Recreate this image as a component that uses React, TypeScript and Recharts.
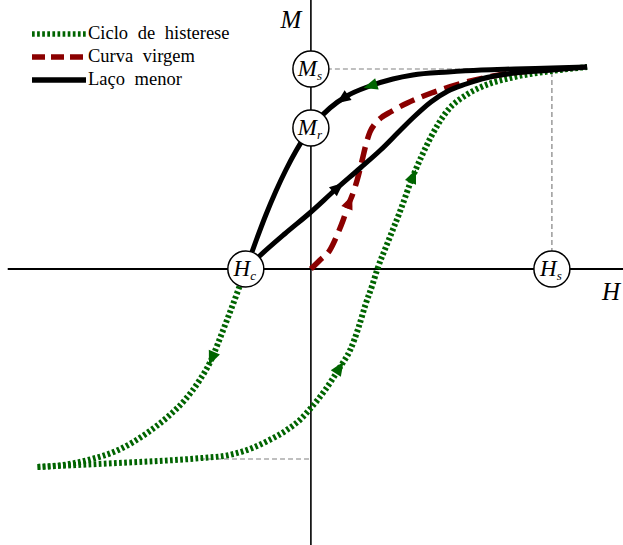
import { LineChart, Line, XAxis, YAxis, ReferenceLine, ReferenceDot, Legend } from "recharts";

type Pt = { h: number; m: number };

const W = 623;
const H = 545;
const H_DOMAIN: [number, number] = [-1.29, 1.295];
const M_DOMAIN: [number, number] = [-1.38, 1.345];

const GREEN = "#006400";
const RED = "#8b0000";
const BLACK = "#000000";
const GUIDE = "#808080";
const SERIF = "'Liberation Serif', 'DejaVu Serif', serif";
const DOTTED = "2.7 2.4";

// valores normalizados: H/Hs e M/Ms
const Hs = 1;
const Ms = 1;
const Mr = 0.705;
const Hc = -0.27;
const mLow = -0.95;
const hLowGuide = -0.46;

const toPts = (rows: number[][]): Pt[] => rows.map(([h, m]) => ({ h, m }));

// ramo descendente comum (de Hc até a saturação), ordenado por H
const upperShared = toPts([
  [Hc, 0], [-0.228, 0.14], [-0.187, 0.27], [-0.145, 0.39], [-0.104, 0.495],
  [-0.062, 0.59], [-0.021, 0.67], [0, Mr], [0.021, 0.735], [0.079, 0.805],
  [0.149, 0.865], [0.245, 0.915], [0.34, 0.95], [0.423, 0.97], [0.569, 0.985],
  [0.707, 0.995], [0.845, 1.0], [1.0, 1.005], [1.146, 1.01],
]);

// continuação do ciclo principal abaixo de Hc
const majorTail = toPts([
  [-1.134, -0.99], [-1.029, -0.98], [-0.925, -0.955], [-0.799, -0.905],
  [-0.674, -0.815], [-0.59, -0.735], [-0.523, -0.655], [-0.464, -0.56],
  [-0.414, -0.455], [-0.385, -0.37], [-0.356, -0.28], [-0.326, -0.185],
  [-0.297, -0.09], [Hc, 0],
]);

// ramo descendente completo do ciclo principal (a parte acima de Hc fica sob o laço menor)
const majorUpper = [...majorTail, ...upperShared.slice(1)];

const majorLower = toPts([
  [-1.134, -0.99], [-0.967, -0.98], [-0.799, -0.97], [-0.632, -0.96],
  [-0.452, -0.945], [-0.339, -0.93], [-0.243, -0.895], [-0.172, -0.855],
  [-0.1, -0.805], [-0.046, -0.755], [0, -0.695], [0.059, -0.605],
  [0.121, -0.49], [0.163, -0.405], [0.197, -0.295], [0.226, -0.18],
  [0.255, -0.08], [0.276, 0], [0.318, 0.13], [0.372, 0.295], [0.414, 0.435],
  [0.456, 0.555], [0.498, 0.66], [0.569, 0.795], [0.644, 0.87], [0.707, 0.91],
  [0.845, 0.96], [1.0, 0.99], [1.146, 1.01],
]);

const minorLower = toPts([
  [Hc, 0], [-0.213, 0.065], [-0.109, 0.175], [0, 0.285], [0.1, 0.395],
  [0.205, 0.505], [0.289, 0.595], [0.372, 0.695], [0.427, 0.76], [0.498, 0.835],
  [0.569, 0.89], [0.644, 0.925], [0.707, 0.95], [0.845, 0.98], [1.0, 0.995],
  [1.146, 1.01],
]);

const virgin = toPts([
  [0, 0], [0.038, 0.045], [0.079, 0.095], [0.109, 0.17], [0.134, 0.245],
  [0.155, 0.32], [0.172, 0.37], [0.192, 0.445], [0.213, 0.545], [0.23, 0.63],
  [0.245, 0.685], [0.265, 0.725], [0.29, 0.755], [0.33, 0.785], [0.4, 0.83],
  [0.5, 0.88], [0.63, 0.93], [0.78, 0.97], [0.958, 0.995],
]);

// setas: curva, posição em H, sentido de percurso (-1 = H decrescente)
const arrows: { curve: Pt[]; h: number; dir: 1 | -1; color: string }[] = [
  { curve: majorUpper, h: 0.25, dir: -1, color: GREEN },
  { curve: upperShared, h: 0.134, dir: -1, color: BLACK },
  { curve: minorLower, h: 0.11, dir: 1, color: BLACK },
  { curve: virgin, h: 0.159, dir: 1, color: RED },
  { curve: majorLower, h: 0.423, dir: 1, color: GREEN },
  { curve: majorLower, h: 0.117, dir: 1, color: GREEN },
  { curve: majorUpper, h: -0.41, dir: -1, color: GREEN },
];

const badges = [
  { h: 0, m: Ms, main: "M", sub: "s" },
  { h: 0, m: Mr, main: "M", sub: "r" },
  { h: Hc, m: 0, main: "H", sub: "c" },
  { h: Hs, m: 0, main: "H", sub: "s" },
];

const axisTitles = [
  { h: -0.083, m: 1.205, text: "M" },
  { h: 1.245, m: -0.155, text: "H" },
];

const legendItems = [
  { label: "Ciclo de histerese", color: GREEN, dash: DOTTED },
  { label: "Curva virgem", color: RED, dash: "13 6" },
  { label: "Laço menor", color: BLACK, dash: undefined as string | undefined },
];

const PX_H = W / (H_DOMAIN[1] - H_DOMAIN[0]);
const PX_M = H / (M_DOMAIN[1] - M_DOMAIN[0]);

function locate(curve: Pt[], h: number, dir: number) {
  let i = 0;
  while (i < curve.length - 2 && curve[i + 1].h < h) i++;
  const a = curve[i];
  const b = curve[i + 1];
  const t = (h - a.h) / (b.h - a.h);
  const m = a.m + t * (b.m - a.m);
  const dx = (b.h - a.h) * PX_H * dir;
  const dy = -(b.m - a.m) * PX_M * dir;
  return { m, angle: (Math.atan2(dy, dx) * 180) / Math.PI };
}

function ArrowHead({ cx, cy, angle, color }: { cx?: number; cy?: number; angle: number; color: string }) {
  if (cx == null || cy == null) return null;
  return (
    <polygon
      points="8,0 -6,-6 -6,6"
      fill={color}
      transform={`translate(${cx},${cy}) rotate(${angle})`}
    />
  );
}

function Badge({ cx, cy, main, sub }: { cx?: number; cy?: number; main: string; sub: string }) {
  if (cx == null || cy == null) return null;
  return (
    <g>
      <circle cx={cx} cy={cy} r={18} fill="#fff" stroke="#000" strokeWidth={1.5} />
      <text
        x={cx - 1}
        y={cy + 7}
        textAnchor="middle"
        fontFamily={SERIF}
        fontStyle="italic"
        fontSize={23}
        fill="#000"
      >
        {main}
        <tspan fontSize={13} dy={4}>{sub}</tspan>
      </text>
    </g>
  );
}

function AxisTitle({ cx, cy, text }: { cx?: number; cy?: number; text: string }) {
  if (cx == null || cy == null) return null;
  return (
    <text x={cx} y={cy} textAnchor="middle" fontFamily={SERIF} fontStyle="italic" fontSize={25} fill="#000">
      {text}
    </text>
  );
}

function LegendBox() {
  return (
    <svg width={230} height={70}>
      {legendItems.map((it, i) => {
        const y = 12 + i * 23;
        return (
          <g key={it.label}>
            <line x1={2} x2={56} y1={y} y2={y} stroke={it.color} strokeWidth={5.5} strokeDasharray={it.dash} />
            <text x={58} y={y + 5} fontFamily={SERIF} fontSize={18.5} wordSpacing={5} fill="#000">
              {it.label}
            </text>
          </g>
        );
      })}
    </svg>
  );
}

const lineProps = { dataKey: "m", type: "monotone" as const, dot: false, activeDot: false, isAnimationActive: false };

export default function App() {
  return (
    <div style={{ position: "absolute", left: 0, top: 0, background: "#fff" }}>
      <LineChart width={W} height={H} margin={{ top: 0, right: 0, bottom: 0, left: 0 }}>
        <XAxis type="number" dataKey="h" domain={H_DOMAIN} hide allowDataOverflow />
        <YAxis type="number" dataKey="m" domain={M_DOMAIN} hide allowDataOverflow />

        <ReferenceLine segment={[{ x: 0, y: Ms }, { x: Hs, y: Ms }]} stroke={GUIDE} strokeDasharray="5 3" strokeWidth={1.2} />
        <ReferenceLine segment={[{ x: Hs, y: 0 }, { x: Hs, y: Ms }]} stroke={GUIDE} strokeDasharray="5 3" strokeWidth={1.2} />
        <ReferenceLine segment={[{ x: hLowGuide, y: mLow }, { x: 0, y: mLow }]} stroke={GUIDE} strokeDasharray="5 3" strokeWidth={1.2} />
        <ReferenceLine segment={[{ x: -1.258, y: 0 }, { x: H_DOMAIN[1], y: 0 }]} stroke={BLACK} strokeWidth={2} />
        <ReferenceLine x={0} stroke={BLACK} strokeWidth={1.6} />

        <Line {...lineProps} data={majorTail} stroke={GREEN} strokeWidth={6} strokeDasharray={DOTTED} />
        <Line {...lineProps} data={majorLower} stroke={GREEN} strokeWidth={6} strokeDasharray={DOTTED} />
        <Line {...lineProps} data={virgin} stroke={RED} strokeWidth={5.5} strokeDasharray="16 8" />
        <Line {...lineProps} data={upperShared} stroke={BLACK} strokeWidth={5} />
        <Line {...lineProps} data={minorLower} stroke={BLACK} strokeWidth={5} />

        {arrows.map((a, i) => {
          const { m, angle } = locate(a.curve, a.h, a.dir);
          return (
            <ReferenceDot
              key={`arrow-${i}`}
              x={a.h}
              y={m}
              shape={(p: any) => <ArrowHead cx={p.cx} cy={p.cy} angle={angle} color={a.color} />}
            />
          );
        })}

        {badges.map((b) => (
          <ReferenceDot
            key={`${b.main}${b.sub}`}
            x={b.h}
            y={b.m}
            shape={(p: any) => <Badge cx={p.cx} cy={p.cy} main={b.main} sub={b.sub} />}
          />
        ))}

        {axisTitles.map((t) => (
          <ReferenceDot
            key={t.text}
            x={t.h}
            y={t.m}
            shape={(p: any) => <AxisTitle cx={p.cx} cy={p.cy} text={t.text} />}
          />
        ))}

        <Legend
          layout="horizontal"
          verticalAlign="middle"
          align="center"
          wrapperStyle={{ top: 22, left: 30, width: 230, height: 70 }}
          content={() => <LegendBox />}
        />
      </LineChart>
    </div>
  );
}
